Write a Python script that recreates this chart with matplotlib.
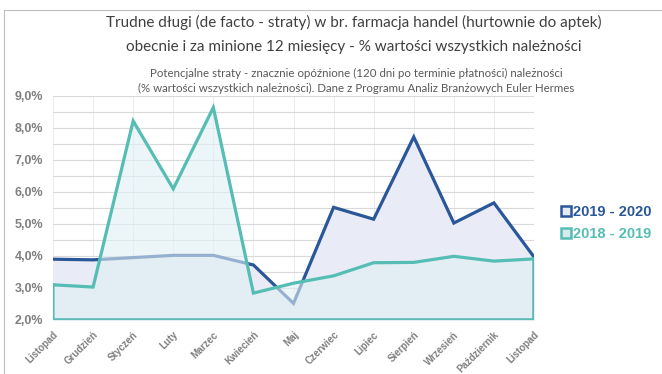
import matplotlib.pyplot as plt
import numpy as np
from matplotlib.lines import Line2D

months = ['Listopad', 'Grudzień', 'Styczeń', 'Luty', 'Marzec', 'Kwiecień', 'Maj',
          'Czerwiec', 'Lipiec', 'Sierpień', 'Wrzesień', 'Październik', 'Listopad']
s_2019_2020 = [3.90, 3.88, 3.95, 4.02, 4.02, 3.72, 2.52, 5.52, 5.15, 7.72, 5.03, 5.66, 3.97]
s_2018_2019 = [3.10, 3.03, 8.22, 6.10, 8.64, 2.84, 3.15, 3.38, 3.79, 3.80, 3.99, 3.84, 3.91]
y_ticks = [2, 3, 4, 5, 6, 7, 8, 9]
y_labels = ['2,0%', '3,0%', '4,0%', '5,0%', '6,0%', '7,0%', '8,0%', '9,0%']

blue = '#2a579a'
teal = '#55bdb3'
grey = '#808080'

W, H = 662, 374
fig = plt.figure(figsize=(W / 100, H / 100), dpi=100)
ax = fig.add_axes([53 / W, (H - 320) / H, (534 - 53) / W, (320 - 96) / H])

x = np.arange(len(months))
base = y_ticks[0]

# 2019-2020 area
ax.fill_between(x, base, s_2019_2020, color='#e9ecf6', zorder=1)
ax.plot(np.r_[x, x[::-1]], np.r_[s_2019_2020, [base] * len(x)],
        color=blue, lw=2.3, solid_joinstyle='miter', zorder=2)
# 2018-2019 area over it
ax.fill_between(x, base, s_2018_2019, color='#e0eff4', alpha=0.6, zorder=3)
ax.plot(np.r_[x, x[::-1], x[0]], np.r_[s_2018_2019, [base] * len(x), s_2018_2019[0]],
        color=teal, lw=2.3, solid_joinstyle='miter', zorder=4)

ax.set_xlim(x[0], x[-1])
ax.set_ylim(base, 9)
ax.set_yticks(y_ticks)
ax.set_yticks(np.arange(2, 9.01, 0.5), minor=True)
ax.set_yticklabels(y_labels, fontsize=9, fontweight='bold', color=grey, family='Liberation Sans')
ax.set_xticks(x)
ax.set_xticklabels(months, rotation=45, ha='right', rotation_mode='anchor',
                   fontsize=7, fontweight='bold', color=grey, family='Liberation Sans')
ax.tick_params(length=0, pad=7)
ax.tick_params(axis='y', which='minor', length=0)
ax.grid(axis='y', which='both', color='#d9d9d9', lw=0.8, zorder=0)
ax.grid(axis='x', color='#e8e8e8', lw=0.6, zorder=0)
ax.set_axisbelow(True)
for sp in ax.spines.values():
    sp.set_visible(False)

fig.text(0.535, 1 - 22 / H, 'Trudne długi (de facto - straty) w br. farmacja handel (hurtownie do aptek)',
         ha='center', va='center', fontsize=11, color='#404040', family='Lato')
fig.text(0.535, 1 - 47 / H, 'obecnie i za minione 12 miesięcy - % wartości wszystkich należności',
         ha='center', va='center', fontsize=11, color='#404040', family='Lato')
fig.text(0.538, 1 - 73 / H, 'Potencjalne straty - znacznie opóźnione (120 dni po terminie płatności) należności',
         ha='center', va='center', fontsize=8.3, color='#595959', family='Lato')
fig.text(0.538, 1 - 88 / H, '(% wartości wszystkich należności). Dane z Programu Analiz Branżowych Euler Hermes',
         ha='center', va='center', fontsize=8.3, color='#595959', family='Lato')

# outer frame
fig.add_artist(Line2D([4 / W, 1], [1 - 10 / H, 1 - 10 / H], color='#bfbfbf', lw=0.8))
fig.add_artist(Line2D([4 / W, 4 / W], [0, 1 - 10 / H], color='#bfbfbf', lw=0.8))

# legend
handles = [Line2D([], [], ls='none', marker='s', markersize=7, markeredgewidth=1.8,
                  markeredgecolor=c, markerfacecolor=f)
           for c, f in [(blue, '#e6eaf5'), (teal, '#d6ebf0')]]
leg = fig.legend(handles, ['2019 - 2020', '2018 - 2019'], loc='center left',
                 bbox_to_anchor=(548 / W, 1 - 223 / H), frameon=False,
                 prop={'family': 'Liberation Sans', 'weight': 'bold', 'size': 10.5},
                 handlelength=0.6, handletextpad=0.2, labelspacing=0.6)
for t, c in zip(leg.get_texts(), [blue, teal]):
    t.set_color(c)

fig.savefig('out.png', dpi=100)
